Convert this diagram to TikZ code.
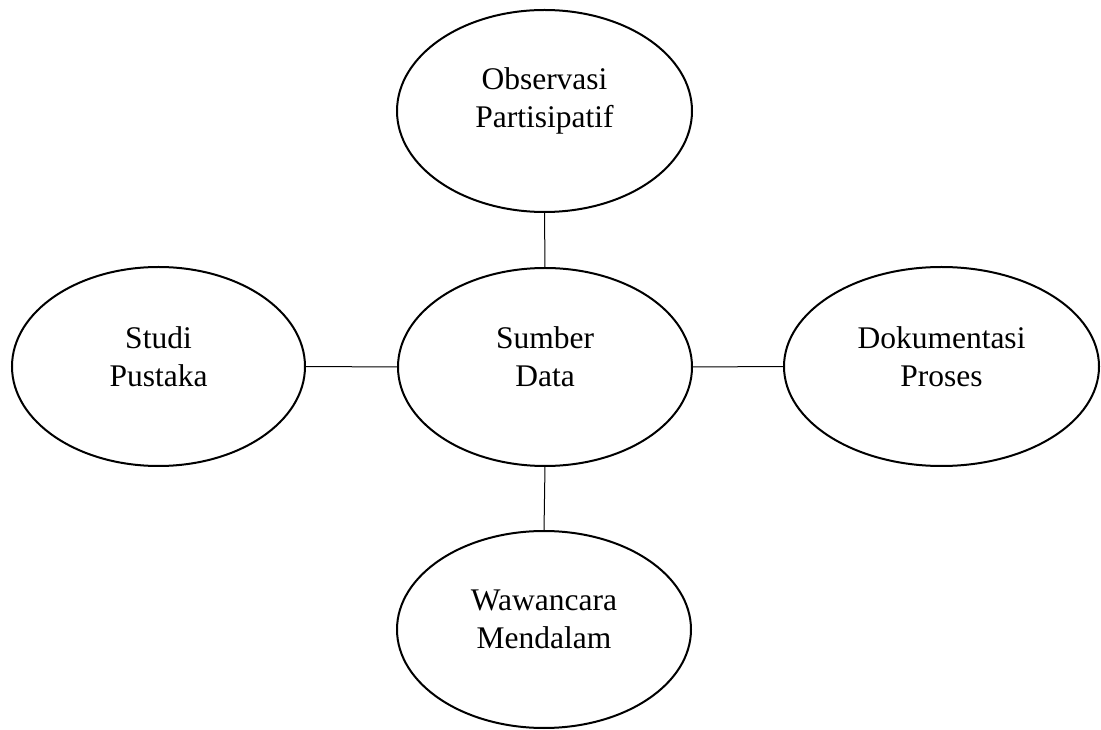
\documentclass[tikz,border=0pt]{standalone}
\usepackage{fontspec}
\setmainfont{Liberation Serif}
\usetikzlibrary{shapes.geometric}
\begin{document}
\begin{tikzpicture}[x=1pt,y=1pt,
  oval/.style={ellipse, draw, line width=2pt, inner sep=0pt, outer sep=0pt},
  lbl/.style={align=center, inner sep=0pt, font=\fontsize{31.5}{38}\selectfont},
  link/.style={line width=1pt}]
\useasboundingbox (0,0) rectangle (1101,729);
\node[oval, minimum width=295pt, minimum height=202pt] (obs) at (544.5,618) {};
\node[oval, minimum width=294pt, minimum height=198pt] (src) at (545,362) {};
\node[oval, minimum width=293pt, minimum height=199pt] (stu) at (158.5,362.5) {};
\node[oval, minimum width=315pt, minimum height=199pt] (dok) at (941.5,362.5) {};
\node[oval, minimum width=294pt, minimum height=197pt] (waw) at (544,99.5) {};
\node[lbl] (tobs) at ([yshift=10pt]obs.center) {Observasi\\Partisipatif};
\node[lbl] (tsrc) at ([yshift=10pt]src.center) {Sumber\\Data};
\node[lbl] (tstu) at ([yshift=10pt]stu.center) {Studi\\Pustaka};
\node[lbl] (tdok) at ([yshift=10pt]dok.center) {Dokumentasi\\Proses};
\node[lbl] (twaw) at ([yshift=10pt]waw.center) {Wawancara\\Mendalam};
\draw[link] (obs.south) -- (src.north);
\draw[link] (src.south) -- (waw.north);
\draw[link] (stu.east) -- (src.west);
\draw[link] (src.east) -- (dok.west);
\end{tikzpicture}
\end{document}
